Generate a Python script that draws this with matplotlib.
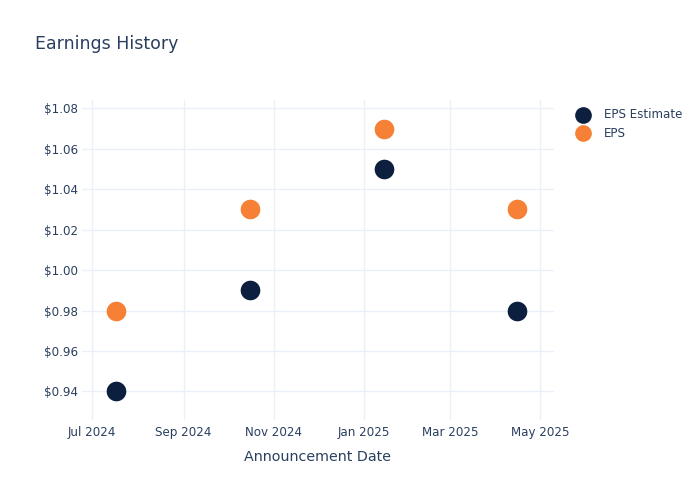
import matplotlib
matplotlib.use("Agg")
import matplotlib.pyplot as plt
import matplotlib.dates as mdates
import numpy as np
import datetime as dt

# data
dates = ["2024-07-17", "2024-10-16", "2025-01-15", "2025-04-15"]
eps_estimate = [0.94, 0.99, 1.05, 0.98]
eps_actual = [0.98, 1.03, 1.07, 1.03]

x = [dt.datetime.strptime(d, "%Y-%m-%d") for d in dates]

text_col = "#2a3f5f"
grid_col = "#ebf0f8"

fig = plt.figure(figsize=(7, 5), dpi=100)
ax = fig.add_axes([0.117, 0.161, 0.674, 0.639])

ax.scatter(x, eps_estimate, s=200, color="#0c1f3f", label="EPS Estimate", zorder=3, linewidths=0)
ax.scatter(x, eps_actual, s=200, color="#f68136", label="EPS", zorder=3, linewidths=0)

ax.set_xlim(dt.datetime(2024, 6, 24), dt.datetime(2025, 5, 10))
ax.set_ylim(0.9261, 1.0841)

ax.set_yticks(np.arange(0.94, 1.081, 0.02))
ax.yaxis.set_major_formatter(matplotlib.ticker.FuncFormatter(lambda v, p: f"${v:.2f}"))
ax.xaxis.set_major_locator(mdates.MonthLocator(bymonth=[1, 3, 5, 7, 9, 11]))
ax.xaxis.set_major_formatter(mdates.DateFormatter("%b %Y"))

ax.grid(True, color=grid_col, linewidth=1)
ax.set_axisbelow(True)
for s in ax.spines.values():
    s.set_visible(False)
ax.tick_params(length=0, labelsize=8.6, labelcolor=text_col)
ax.tick_params(axis="x", pad=5)
ax.tick_params(axis="y", pad=3)

ax.set_xlabel("Announcement Date", fontsize=10.3, color=text_col, labelpad=7.5)
fig.text(0.05, 0.912, "Earnings History", fontsize=12.5, color=text_col, va="center", ha="left")

fig.legend(loc="upper left", bbox_to_anchor=(0.80, 0.805), frameon=False,
           fontsize=8.6, labelcolor=text_col, handletextpad=0.8, labelspacing=0.45,
           markerscale=0.85)

fig.savefig("out.png", dpi=100)
